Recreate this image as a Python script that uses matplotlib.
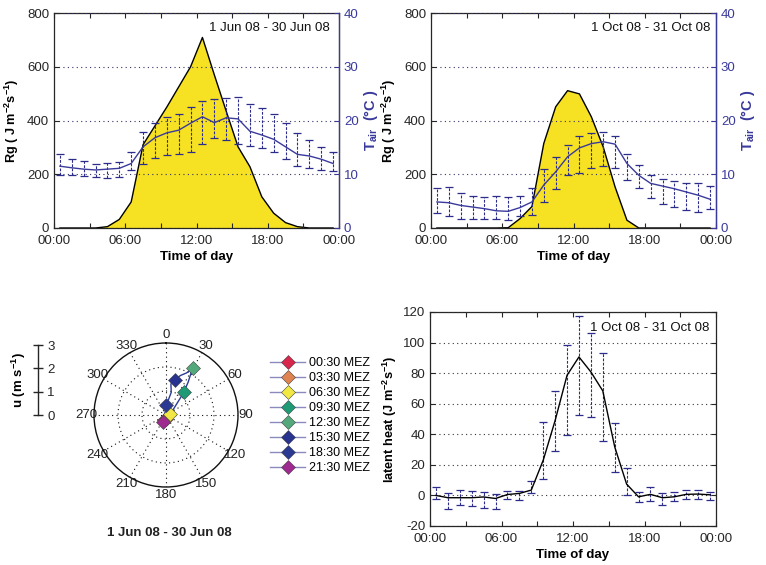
import numpy as np
import matplotlib
matplotlib.use('Agg')
import matplotlib.pyplot as plt
from matplotlib.lines import Line2D
from matplotlib.ticker import MultipleLocator

plt.rcParams['font.family'] = ['Liberation Sans', 'DejaVu Sans']
plt.rcParams['mathtext.fontset'] = 'custom'
plt.rcParams['mathtext.rm'] = 'Liberation Sans'
plt.rcParams['mathtext.bf'] = 'Liberation Sans:bold'
plt.rcParams['mathtext.it'] = 'Liberation Sans:italic'
plt.rcParams['axes.unicode_minus'] = False

# ---------------- data ----------------
hours = np.arange(24) + 0.5
xtick_pos = [0, 6, 12, 18, 24]
xtick_labels = ['00:00', '06:00', '12:00', '18:00', '00:00']

# June 2008
rg_jun = [0, 0, 0, 0, 5, 32, 97, 310, 380, 450, 525, 600,
          709, 570, 435, 302, 228, 116, 55, 20, 5, 0, 0, 0]
t_jun = [11.5, 11.2, 10.95, 10.8, 10.95, 11.1, 12.0, 15.1, 16.8, 17.7, 18.2, 19.5,
         20.7, 19.6, 20.5, 20.3, 18.0, 17.3, 16.5, 15.1, 13.7, 13.4, 12.8, 12.0]
t_jun_lo = [9.8, 9.95, 9.65, 9.5, 9.35, 9.5, 10.8, 12.0, 12.95, 13.6, 13.75, 14.2,
            15.6, 16.7, 16.4, 15.6, 15.2, 14.9, 14.1, 12.9, 11.6, 11.1, 10.8, 10.6]
t_jun_hi = [13.75, 12.8, 12.45, 11.95, 12.1, 12.3, 14.2, 17.9, 19.5, 20.7, 21.15, 22.5,
            23.7, 24.0, 24.1, 24.3, 23.1, 22.4, 21.3, 19.6, 17.6, 16.4, 15.1, 14.2]

# October 2008
rg_oct = [0, 0, 0, 0, 0, 0, 1, 35, 80, 315, 451, 511,
          499, 414, 302, 153, 29, 0, 0, 0, 0, 0, 0, 0]
t_oct = [4.85, 4.7, 4.2, 3.9, 3.6, 3.2, 3.1, 3.8, 4.85, 8.0, 10.45, 13.25,
         14.9, 15.7, 16.05, 15.6, 12.0, 9.8, 8.3, 7.8, 7.3, 6.7, 6.1, 5.35]
t_oct_lo = [2.85, 2.2, 1.75, 1.75, 1.75, 1.6, 1.55, 2.2, 2.35, 4.75, 7.2, 9.95,
            10.15, 11.2, 11.55, 11.2, 9.0, 7.35, 5.5, 4.55, 3.9, 3.4, 2.95, 3.5]
t_oct_hi = [7.45, 7.65, 6.55, 5.9, 5.8, 6.0, 5.8, 6.0, 7.45, 10.95, 13.25, 15.4,
            17.1, 17.7, 17.8, 17.1, 13.75, 11.65, 9.85, 9.2, 8.7, 8.4, 8.3, 7.9]

# latent heat, October 2008
le_oct = [0, -1.5, -1.5, -1.5, -1, -2, 0.6, 1.3, 3.5, 23, 49, 78.6,
          90.6, 80.8, 68.4, 31.8, 7.4, -0.9, 0.7, -1.5, -0.9, 0.7, 0.9, 0.4]
le_lo = [-2.2, -9.1, -6.3, -6.7, -8.5, -8.7, -2.6, -3.0, 1.7, 10.7, 29.0, 39.8,
         52.3, 51.4, 35.9, 15.5, 0.2, -4.1, -3.5, -6.5, -3.9, -2.6, -2.4, -3.0]
le_hi = [5.2, 1.3, 3.5, 3.0, 2.0, 1.1, 2.6, 2.8, 9.4, 48.1, 68.4, 98.4,
         117.3, 106.2, 93.4, 47.2, 18.1, 2.4, 5.7, 1.3, 2.2, 3.3, 3.5, 2.0]

# mean wind (June 2008), hourly: direction (deg from N) and speed (m/s)
wind_dir = [202, 201, 201, 185, 162, 117, 80, 52, 41, 38, 34, 31,
            30, 26, 20, 14, 9, 13, 2, 357, 248, 206, 204, 203]
wind_speed = [0.23, 0.27, 0.20, 0.15, 0.09, 0.09, 0.15, 0.39, 0.84, 1.20, 1.65, 2.01,
              2.25, 1.95, 1.75, 1.50, 1.31, 0.97, 0.40, 0.24, 0.08, 0.33, 0.30, 0.26]
marker_idx = [0, 3, 6, 9, 12, 15, 18, 21]
marker_labels = ['00:30 MEZ', '03:30 MEZ', '06:30 MEZ', '09:30 MEZ',
                 '12:30 MEZ', '15:30 MEZ', '18:30 MEZ', '21:30 MEZ']
marker_colors = ['#d8264c', '#df8350', '#f1e844', '#1e9a74',
                 '#54a97c', '#27338f', '#2a3a92', '#9e2a90']
angle_ticks = list(range(0, 360, 30))
speed_ticks = [0, 1, 2, 3]

# ---------------- styles ----------------
YELLOW = '#f6e122'
NAVY = '#3a3a9c'
EBCOL = '#2c2c8c'
CAPCOL = '#2a2a60'
AXCOL = '#262626'
FS = 9.5
YLFS = 9.2

W, H = 766, 565
fig = plt.figure(figsize=(W / 100, H / 100), dpi=100)


def px_rect(l, t, r, b):
    return [l / W, 1 - b / H, (r - l) / W, (b - t) / H]


def style_time_axis(ax):
    ax.set_xlim(0, 24)
    ax.set_xticks(xtick_pos)
    ax.set_xticklabels(xtick_labels)
    ax.xaxis.set_minor_locator(MultipleLocator(3))
    ax.tick_params(axis='x', which='both', direction='in', top=True,
                   length=3.5, width=0.8, labelsize=FS, colors=AXCOL, pad=5)
    ax.set_xlabel('Time of day', fontsize=FS, fontweight='bold', labelpad=3)
    for s in ax.spines.values():
        s.set_color(AXCOL)
        s.set_linewidth(0.9)


def errbars(ax, x, m, lo, hi, color):
    m = np.asarray(m); lo = np.asarray(lo); hi = np.asarray(hi)
    eb = ax.errorbar(x, m, yerr=[m - lo, hi - m], color=color, lw=1.0,
                     ecolor=EBCOL, elinewidth=0.8, capsize=3.2, capthick=0.9, zorder=4)
    eb[2][0].set_linestyle((0, (2.5, 1.3)))
    for c in eb[1]:
        c.set_color(CAPCOL)
    return eb


def top_panel(rect, rg, t, lo, hi, label, tx):
    ax = fig.add_axes(rect)
    ax.fill_between(hours, 0, rg, facecolor=YELLOW, lw=0, zorder=1)
    ax.plot(hours, rg, color='k', lw=1.0, zorder=2)
    ax.set_ylim(0, 800)
    ax.set_yticks(range(0, 801, 200))
    ax.yaxis.grid(True, ls=(0, (1, 3)), color='#333366', lw=0.8)
    ax.set_axisbelow(False)
    style_time_axis(ax)
    ax.tick_params(axis='y', direction='in', right=False, length=3.5,
                   labelsize=FS, colors=AXCOL)
    ax.set_ylabel('Rg ( J m$^{\\mathbf{-2}}$s$^{\\mathbf{-1}}$)', fontsize=YLFS,
                  fontweight='bold', labelpad=4)
    ax.text(tx, 0.93, label, transform=ax.transAxes, ha='right', va='center',
            fontsize=FS, color='#111111', zorder=6)

    ax2 = ax.twinx()
    ax2.set_ylim(0, 40)
    ax2.set_yticks(range(0, 41, 10))
    errbars(ax2, hours, t, lo, hi, NAVY)
    for k in ('left', 'top', 'bottom'):
        ax2.spines[k].set_visible(False)
    ax2.spines['right'].set_color(NAVY)
    ax2.spines['right'].set_linewidth(0.9)
    ax2.tick_params(axis='y', direction='in', length=3.5, labelsize=FS,
                    colors=NAVY)
    ax2.set_ylabel('T$_{\\mathbf{air}}$  (°C )', fontsize=FS + 1,
                   fontweight='bold', color=NAVY, labelpad=2)
    ax2.set_xlim(0, 24)
    return ax, ax2


top_panel(px_rect(54, 13, 339, 228), rg_jun, t_jun, t_jun_lo, t_jun_hi,
          '1 Jun 08 - 30 Jun 08', 0.968)
top_panel(px_rect(431, 13, 716, 228), rg_oct, t_oct, t_oct_lo, t_oct_hi,
          '1 Oct 08 - 31 Oct 08', 0.982)

# ---------------- latent heat ----------------
axl = fig.add_axes(px_rect(430, 312, 716, 526))
axl.set_ylim(-20, 120)
axl.set_yticks(range(-20, 121, 20))
axl.yaxis.grid(True, ls=(0, (1, 3)), color='#333333', lw=0.8)
axl.set_axisbelow(False)
errbars(axl, hours, le_oct, le_lo, le_hi, 'k')
style_time_axis(axl)
axl.tick_params(axis='y', direction='in', right=True, length=3.5,
                labelsize=FS, colors=AXCOL)
axl.set_ylabel('latent heat (J m$^{\\mathbf{-2}}$s$^{\\mathbf{-1}}$)', fontsize=YLFS,
               fontweight='bold', labelpad=3)
axl.text(0.976, 0.925, '1 Oct 08 - 31 Oct 08', transform=axl.transAxes,
         ha='right', va='center', fontsize=FS, color='#111111', zorder=6)

# ---------------- polar wind plot ----------------
cx, cy, R = 166, 415, 72
axp = fig.add_axes(px_rect(cx - R, cy - R, cx + R, cy + R), projection='polar')
axp.set_theta_zero_location('N')
axp.set_theta_direction(-1)
axp.set_rlim(0, 3)
theta = np.deg2rad(wind_dir)
axp.plot(theta, wind_speed, color='#2a3a9a', lw=1.0, zorder=3)
for i, col in zip(marker_idx, marker_colors):
    axp.plot(theta[i], wind_speed[i], marker='D', ms=7, color=col,
             mec='#444444', mew=0.4, zorder=4)
axp.set_thetagrids(angle_ticks, labels=[str(a) for a in angle_ticks],
                   fontsize=FS, color='#222222')
axp.set_rgrids([1, 2], labels=['', ''])
axp.grid(True, ls=(0, (1, 3)), color='#111111', lw=0.8)
axp.spines['polar'].set_linewidth(1.0)
axp.spines['polar'].set_color('#111111')
axp.tick_params(axis='x', pad=-5)
fig.text(169 / W, 1 - 533 / H, '1 Jun 08 - 30 Jun 08', ha='center', va='center',
         fontsize=FS, fontweight='bold', color='#222222')

# speed scale bar
axs = fig.add_axes(px_rect(38, 345, 38.1, 415))
axs.set_ylim(0, 3)
axs.set_yticks(speed_ticks)
axs.set_xticks([])
for k in ('right', 'top', 'bottom'):
    axs.spines[k].set_visible(False)
axs.spines['left'].set_color(AXCOL)
axs.spines['left'].set_linewidth(1.0)
axs.tick_params(axis='y', direction='inout', length=7, width=1.0,
                left=True, right=False, labelleft=False, labelright=True,
                labelsize=FS, colors=AXCOL, pad=3)
axs.set_ylabel('u (m s$^{\\mathbf{-1}}$)', fontsize=FS, fontweight='bold',
               labelpad=4)
axs.patch.set_visible(False)

# legend
handles = [Line2D([], [], color='#8a8abf', lw=1.0, marker='D', ms=7,
                  markerfacecolor=c, markeredgecolor='#444444', mew=0.4)
           for c in marker_colors]
fig.legend(handles, marker_labels, loc='upper left',
           bbox_to_anchor=(270 / W, 1 - 357 / H), frameon=False,
           borderaxespad=0, borderpad=0, handlelength=2.8, handletextpad=0.35,
           labelspacing=0.24, fontsize=9)

fig.savefig('out.png', dpi=100)
